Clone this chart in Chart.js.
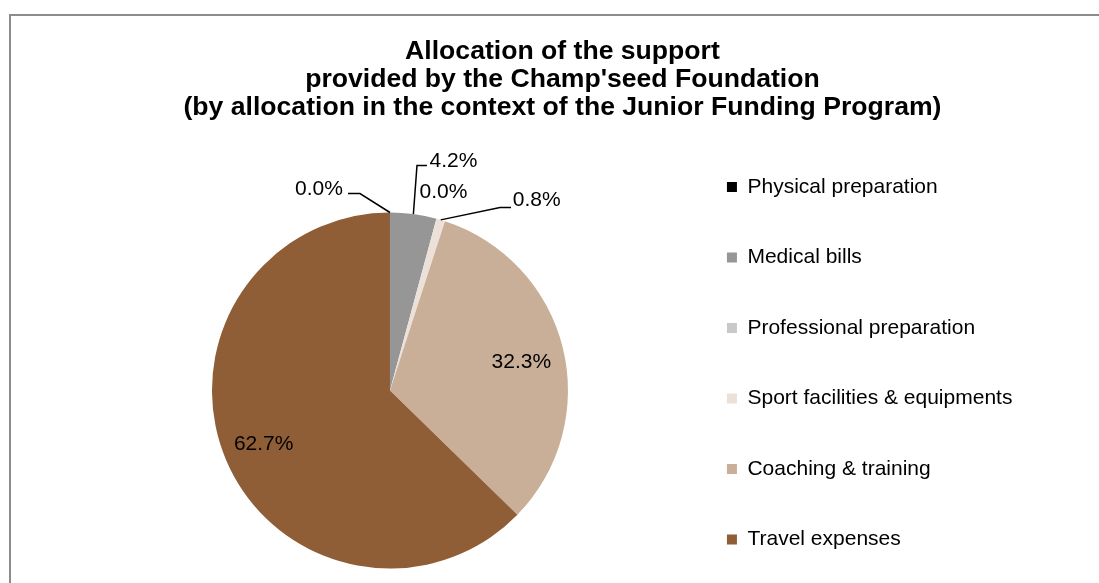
<!DOCTYPE html>
<html>
<head>
<meta charset="utf-8">
<title>Allocation of the support</title>
<script src="https://cdn.jsdelivr.net/npm/chart.js@4.4.1/dist/chart.umd.min.js"></script>
<style>
  html, body { margin: 0; padding: 0; background: #fff; }
</style>
</head>
<body>
<canvas id="myChart" width="1099" height="583"></canvas>
<script>
var categories = ["Physical preparation", "Medical bills", "Professional preparation",
    "Sport facilities & equipments", "Coaching & training", "Travel expenses"];
var shares = [0.0, 4.2, 0.0, 0.8, 32.3, 62.7];
var colours = ["#000000", "#969696", "#c8c8c8", "#ece1d9", "#c9ae98", "#8f5e36"];
var titleLines = ["Allocation of the support",
    "provided by the Champ'seed Foundation",
    "(by allocation in the context of the Junior Funding Program)"];

// where each percentage sits: inside the slice, or next to it with a leader line
// (offsets are px from the point where the slice middle meets the rim)
var labelPlace = [
    { text: [-71, -23], line: [[-30, -19], [-42, -19]] },
    { text: [40, -53], line: [[3.6, -48.5], [13.6, -48.5]] },
    { text: [7, -26] },
    { text: [96, -19.4], line: [[59.3, -12.4], [70.3, -12.4]] },
    { inside: 0.76, nudge: [0, 4] },
    { inside: 0.77, nudge: [0, 0] }
];

var FONT = '"Liberation Sans", Arial, sans-serif';
Chart.defaults.font.family = FONT;
Chart.defaults.color = '#000';

// grey frame, only top and left edges are inside the picture
var frame = {
    id: 'frame',
    beforeDraw: function (chart) {
        var ctx = chart.ctx;
        ctx.save();
        ctx.strokeStyle = '#8c8c8c';
        ctx.lineWidth = 2;
        ctx.beginPath();
        ctx.moveTo(10, chart.height);
        ctx.lineTo(10, 15);
        ctx.lineTo(chart.width, 15);
        ctx.stroke();
        ctx.restore();
    }
};

var pctLabels = {
    id: 'pctLabels',
    afterDatasetsDraw: function (chart) {
        var ctx = chart.ctx;
        var arcs = chart.getDatasetMeta(0).data;
        ctx.save();
        ctx.font = '21px ' + FONT;
        ctx.fillStyle = '#000';
        ctx.strokeStyle = '#000';
        ctx.lineWidth = 1.5;
        ctx.textAlign = 'center';
        ctx.textBaseline = 'middle';
        arcs.forEach(function (arc, i) {
            var p = arc.getProps(['x', 'y', 'startAngle', 'endAngle', 'outerRadius'], true);
            var mid = (p.startAngle + p.endAngle) / 2;
            var place = labelPlace[i];
            var txt = shares[i].toFixed(1) + '%';
            if (place.inside) {
                var r = p.outerRadius * place.inside;
                ctx.fillText(txt, p.x + r * Math.cos(mid) + place.nudge[0],
                    p.y + r * Math.sin(mid) + place.nudge[1]);
                return;
            }
            var ax = p.x + p.outerRadius * Math.cos(mid);
            var ay = p.y + p.outerRadius * Math.sin(mid);
            if (place.line) {
                ctx.beginPath();
                ctx.moveTo(ax, ay);
                place.line.forEach(function (pt) { ctx.lineTo(ax + pt[0], ay + pt[1]); });
                ctx.stroke();
            }
            ctx.fillText(txt, ax + place.text[0], ay + place.text[1]);
        });
        ctx.restore();
    }
};

var ctx = document.getElementById('myChart').getContext('2d');
var myChart = new Chart(ctx, {
    type: 'pie',
    data: {
        labels: categories,
        datasets: [{
            data: shares,
            backgroundColor: colours,
            borderWidth: 0,
            radius: 178
        }]
    },
    options: {
        responsive: false,
        animation: false,
        events: [],
        layout: { padding: { top: 0, bottom: -16.5, left: 102.5, right: 76.6 } },
        plugins: {
            title: {
                display: true,
                text: titleLines,
                color: '#000',
                font: { size: 26.6, weight: 'bold', lineHeight: '28px' },
                padding: { top: 38, bottom: 76 }
            },
            legend: {
                position: 'right',
                align: 'end',
                labels: {
                    boxWidth: 10,
                    boxHeight: 10,
                    padding: 49.5,
                    color: '#000',
                    font: { size: 21 }
                }
            },
            tooltip: { enabled: false }
        }
    },
    plugins: [frame, pctLabels]
});
</script>
</body>
</html>
